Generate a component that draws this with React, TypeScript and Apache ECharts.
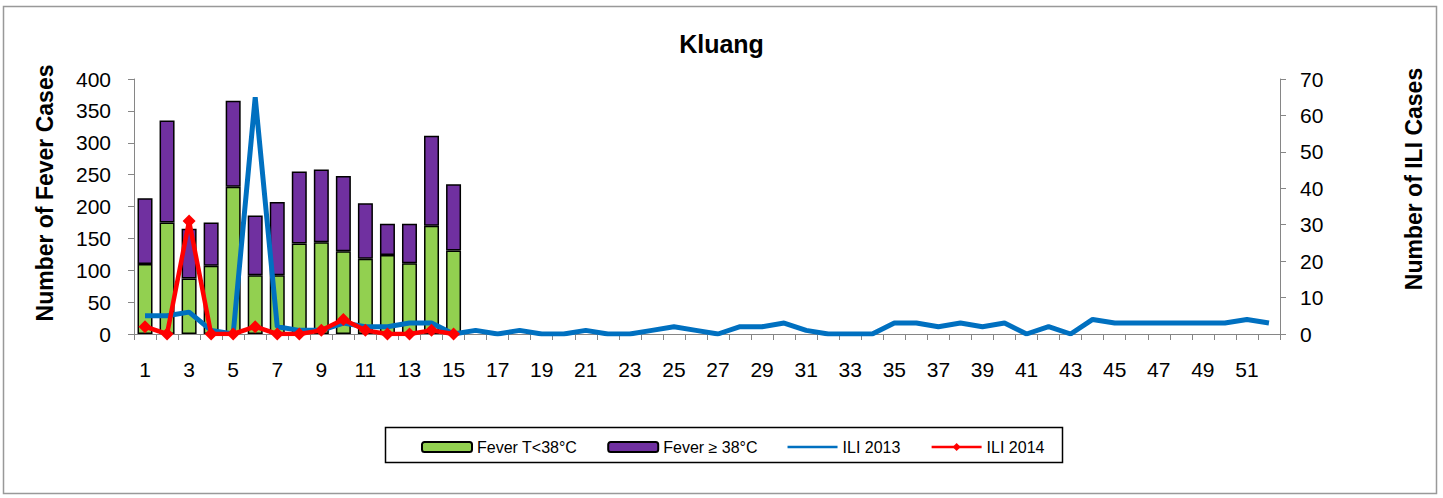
import React, { useEffect, useRef } from "react";
import * as echarts from "echarts";

const weeks = ["1","2","3","4","5","6","7","8","9","10","11","12","13","14","15","16","17","18","19","20","21","22","23","24","25","26","27","28","29","30","31","32","33","34","35","36","37","38","39","40","41","42","43","44","45","46","47","48","49","50","51","52"];
const feverBelow38 = [110, 175, 87, 107, 231, 92, 92, 142, 144, 130, 118, 124, 111, 170, 131];
const feverAbove38 = [103, 160, 78, 68, 135, 94, 115, 113, 114, 118, 87, 49, 62, 141, 104];
const ili2013 = [5, 5, 6, 1, 0, 65, 2, 1, 1, 3, 2, 2, 3, 3, 0, 1, 0, 1, 0, 0, 1, 0, 0, 1, 2, 1, 0, 2, 2, 3, 1, 0, 0, 0, 3, 3, 2, 3, 2, 3, 0, 2, 0, 4, 3, 3, 3, 3, 3, 3, 4, 3];
const ili2014 = [2, 0, 31, 0, 0, 2, 0, 0, 1, 4, 1, 0, 0, 1, 0];
const leftTicks = { min: 0, max: 400, interval: 50 };
const rightTicks = { min: 0, max: 70, interval: 10 };

const FONT = "'Liberation Sans', Arial, sans-serif";

export default function App() {
  const ref = useRef<HTMLDivElement>(null);
  useEffect(() => {
    if (!ref.current) return;
    const chart = echarts.init(ref.current, undefined, { renderer: "svg" });
    const axisLineStyle = { color: "#868686", width: 1 };
    chart.setOption({
      animation: false,
      backgroundColor: "#ffffff",
      textStyle: { fontFamily: FONT },
      title: {
        text: "Kluang",
        left: "center",
        top: 31,
        padding: 0,
        textStyle: { fontFamily: FONT, fontSize: 25, fontWeight: "bold", color: "#000" },
      },
      grid: { left: 134, right: 163, top: 79, bottom: 164, containLabel: false },
      legend: {
        left: 416,
        top: 434,
        itemWidth: 50,
        itemHeight: 10,
        itemGap: 30,
        textStyle: { fontFamily: FONT, fontSize: 16, color: "#000" },
        lineStyle: { width: 2.5 },
        data: [
          { name: "Fever T<38°C" },
          { name: "Fever ≥ 38°C" },
          { name: "ILI 2013", icon: "path://M0,0L20,0L20,1L0,1Z" },
          { name: "ILI 2014" },
        ],
      },
      xAxis: {
        type: "category",
        data: weeks,
        boundaryGap: true,
        axisLine: { lineStyle: axisLineStyle },
        axisTick: { show: true, length: 6, lineStyle: axisLineStyle, interval: 0 },
        axisLabel: { interval: 1, fontSize: 21, color: "#000", margin: 25, fontFamily: FONT },
        splitLine: { show: false },
      },
      yAxis: [
        {
          type: "value",
          min: leftTicks.min,
          max: leftTicks.max,
          interval: leftTicks.interval,
          axisLine: { show: true, lineStyle: axisLineStyle },
          axisTick: { show: true, length: 6, lineStyle: axisLineStyle },
          axisLabel: { fontSize: 21, color: "#000", margin: 23, fontFamily: FONT },
          splitLine: { show: false },
        },
        {
          type: "value",
          min: rightTicks.min,
          max: rightTicks.max,
          interval: rightTicks.interval,
          position: "right",
          axisLine: { show: true, lineStyle: axisLineStyle },
          axisTick: { show: true, length: 6, lineStyle: axisLineStyle },
          axisLabel: { fontSize: 21, color: "#000", margin: 20, fontFamily: FONT },
          splitLine: { show: false },
        },
      ],
      series: [
        {
          name: "Fever T<38°C",
          type: "bar",
          stack: "fever",
          barWidth: 15,
          yAxisIndex: 0,
          data: feverBelow38,
          itemStyle: { color: "#92D050", borderColor: "#000", borderWidth: 1.5 },
        },
        {
          name: "Fever ≥ 38°C",
          type: "bar",
          stack: "fever",
          barWidth: 15,
          yAxisIndex: 0,
          data: feverAbove38,
          itemStyle: { color: "#7030A0", borderColor: "#000", borderWidth: 1.5 },
        },
        {
          name: "ILI 2013",
          type: "line",
          yAxisIndex: 1,
          data: ili2013,
          symbol: "none",
          lineStyle: { color: "#0070C0", width: 5 },
          itemStyle: { color: "#0070C0" },
          z: 3,
        },
        {
          name: "ILI 2014",
          type: "line",
          yAxisIndex: 1,
          data: ili2014,
          symbol: "diamond",
          symbolSize: 13,
          lineStyle: { color: "#FF0000", width: 4.5 },
          itemStyle: { color: "#FF0000" },
          z: 4,
        },
      ],
      graphic: [
        {
          type: "rect",
          shape: { x: 3.5, y: 6.5, width: 1433, height: 487 },
          style: { fill: "none", stroke: "#999999", lineWidth: 1.5 },
          silent: true,
          z: -10,
        },
        {
          type: "rect",
          shape: { x: 385.5, y: 427.5, width: 677, height: 35 },
          style: { fill: "none", stroke: "#000000", lineWidth: 1.5 },
          silent: true,
        },
        {
          type: "text",
          x: 45,
          y: 193,
          rotation: Math.PI / 2,
          style: {
            text: "Number of Fever Cases",
            font: `bold 23px ${FONT}`,
            fill: "#000",
            textAlign: "center",
            textVerticalAlign: "middle",
          },
        },
        {
          type: "text",
          x: 1414,
          y: 179,
          rotation: Math.PI / 2,
          style: {
            text: "Number of ILI Cases",
            font: `bold 23px ${FONT}`,
            fill: "#000",
            textAlign: "center",
            textVerticalAlign: "middle",
          },
        },
      ],
    });
    return () => chart.dispose();
  }, []);
  return (
    <div
      ref={ref}
      style={{ position: "fixed", left: 0, top: 0, width: 1443, height: 498 }}
    />
  );
}
